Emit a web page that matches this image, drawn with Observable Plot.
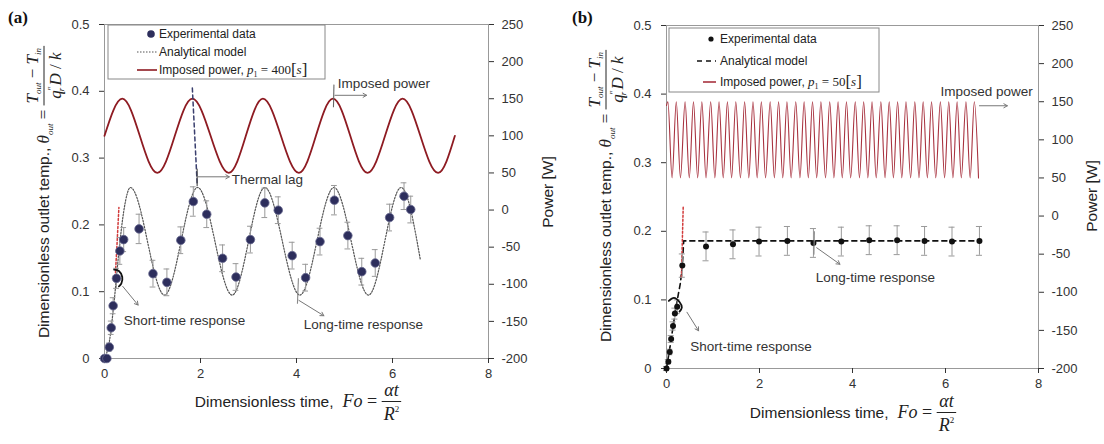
<!DOCTYPE html>
<html><head><meta charset="utf-8">
<script src="https://cdn.jsdelivr.net/npm/d3@7"></script>
<script src="https://cdn.jsdelivr.net/npm/@observablehq/plot@0.6"></script>
<style>
body{margin:0;background:#fff;width:1104px;height:444px;overflow:hidden;position:relative;}
#pa{position:absolute;left:0;top:0;width:560px;height:444px}
#pb{position:absolute;left:552px;top:0;width:552px;height:444px}
svg{overflow:visible}
</style></head><body><div id="pa"></div><div id="pb"></div>
<script>
// ---------- shared ticks ----------
const xTicks = [0, 2, 4, 6, 8];
const thetaTicks = [0, 0.1, 0.2, 0.3, 0.4, 0.5];
const powerTicks = [-200, -150, -100, -50, 0, 50, 100, 150, 200, 250];

// ---------- panel (a): p1 = 400 s ----------
const aExpFo    = [0.00, 0.05, 0.10, 0.14, 0.18, 0.25, 0.32, 0.40, 0.72, 1.01, 1.30, 1.59, 1.85, 2.13, 2.46, 2.74, 3.04, 3.34, 3.62, 3.91, 4.19, 4.49, 4.79, 5.07, 5.36, 5.64, 5.94, 6.24, 6.38];
const aExpTheta = [0.000, 0.000, 0.017, 0.046, 0.079, 0.120, 0.161, 0.178, 0.194, 0.127, 0.114, 0.177, 0.235, 0.216, 0.150, 0.122, 0.178, 0.233, 0.222, 0.154, 0.121, 0.175, 0.237, 0.184, 0.130, 0.143, 0.211, 0.243, 0.223];
const aExpErr   = [0.003, 0.003, 0.006, 0.010, 0.012, 0.015, 0.020, 0.018, 0.022, 0.020, 0.020, 0.020, 0.022, 0.020, 0.020, 0.020, 0.020, 0.022, 0.020, 0.020, 0.020, 0.020, 0.022, 0.020, 0.020, 0.020, 0.020, 0.020, 0.020];
const aModelFo    = [0, 0.10, 0.20, 0.30, 0.40, 0.54, 1.25, 1.94, 2.66, 3.34, 4.07, 4.78, 5.50, 6.18, 6.58];
const aModelTheta = [0, 0.025, 0.085, 0.160, 0.220, 0.256, 0.095, 0.256, 0.095, 0.256, 0.095, 0.256, 0.095, 0.256, 0.148];
const aShortFo    = [0.22, 0.26, 0.30];
const aShortTheta = [0.117, 0.170, 0.226];
const aPowerFo = [0, 0.37, 1.10, 1.83, 2.59, 3.30, 4.05, 4.76, 5.48, 6.21, 6.95, 7.30];
const aPowerW  = [100, 150, 50, 150, 50, 150, 50, 150, 50, 150, 50, 100];

// ---------- panel (b): p1 = 50 s ----------
const bExpFo    = [0.00, 0.04, 0.07, 0.10, 0.14, 0.18, 0.23, 0.34, 0.85, 1.43, 1.99, 2.60, 3.16, 3.76, 4.36, 4.96, 5.55, 6.14, 6.73];
const bExpTheta = [0.000, 0.010, 0.024, 0.043, 0.062, 0.080, 0.090, 0.150, 0.178, 0.181, 0.185, 0.186, 0.183, 0.185, 0.187, 0.187, 0.186, 0.185, 0.186];
const bExpErr   = [0.003, 0.003, 0.004, 0.005, 0.006, 0.008, 0.010, 0.017, 0.021, 0.021, 0.021, 0.021, 0.021, 0.021, 0.021, 0.021, 0.021, 0.021, 0.021];
const bModelFo    = [0, 0.10, 0.20, 0.30, 0.34, 0.37, 6.73];
const bModelTheta = [0, 0.042, 0.088, 0.125, 0.150, 0.186, 0.186];
const bShortFo    = [0.32, 0.34, 0.36];
const bShortTheta = [0.133, 0.185, 0.237];
const bPowerStartFo = 0, bPowerStartW = 145, bPowerHigh = 150, bPowerLow = 50;
const bPeaks   = [0.03,0.21,0.40,0.58,0.76,0.95,1.13,1.31,1.49,1.68,1.86,2.04,2.23,2.41,2.59,2.78,2.96,3.14,3.32,3.51,3.69,3.87,4.06,4.24,4.42,4.61,4.79,4.97,5.15,5.34,5.52,5.70,5.89,6.07,6.25,6.44,6.62];
const bTroughs = [0.12,0.30,0.49,0.67,0.85,1.04,1.22,1.40,1.59,1.77,1.95,2.13,2.32,2.50,2.68,2.87,3.05,3.23,3.42,3.60,3.78,3.96,4.15,4.33,4.51,4.70,4.88,5.06,5.25,5.43,5.61,5.79,5.98,6.16,6.34,6.53,6.71];

// ---------- annotations (data coordinates) ----------
const aTexts = [
  {fo: 2.65, th: 0.268, t: "Thermal lag"},
  {fo: 4.86, th: 0.412, t: "Imposed power"},
  {fo: 0.40, th: 0.057, t: "Short-time response"},
  {fo: 4.15, th: 0.050, t: "Long-time response"}
];
const aArrows = [
  {x1: 1.94, y1: 0.272, x2: 2.60, y2: 0.272},
  {x1: 4.80, y1: 0.394, x2: 5.46, y2: 0.394},
  {x1: 0.38, y1: 0.108, x2: 0.70, y2: 0.080},
  {x1: 4.05, y1: 0.087, x2: 4.57, y2: 0.064}
];
const aLagFo = [1.83, 1.93], aLagTheta = [0.405, 0.262];
const aArcFo = [0.20, 0.30, 0.37, 0.35, 0.30], aArcTheta = [0.133, 0.131, 0.122, 0.112, 0.108];
const aTicksMarks = [
  {x1: 1.93, y1: 0.258, x2: 1.93, y2: 0.284, c: "#444"},
  {x1: 4.78, y1: 0.410, x2: 4.77, y2: 0.376, c: "#666"},
  {x1: 4.04, y1: 0.120, x2: 4.02, y2: 0.082, c: "#888"}
];
const bTexts = [
  {fo: 5.89, th: 0.404, t: "Imposed power"},
  {fo: 3.21, th: 0.1325, t: "Long-time response"},
  {fo: 0.51, th: 0.0316, t: "Short-time response"}
];
const bArrows = [
  {x1: 6.73, y1: 0.383, x2: 7.33, y2: 0.383},
  {x1: 3.23, y1: 0.176, x2: 3.73, y2: 0.152},
  {x1: 0.44, y1: 0.082, x2: 0.69, y2: 0.055}
];
const bArcFo = [0.05, 0.16, 0.28, 0.33, 0.28], bArcTheta = [0.0985, 0.103, 0.097, 0.089, 0.083];
const bTicksMarks = [
  {x1: 3.18, y1: 0.200, x2: 3.17, y2: 0.166, c: "#888"}
];

// ---------- helpers ----------
const SANS = "Liberation Sans, Arial, sans-serif";
const SERIF = "Liberation Serif, Times New Roman, serif";
const toY = w => (w + 200) / 900;            // power axis -> theta axis
const fromY = y => Math.round(y * 900 - 200);

const zipXY = (xs, ys) => xs.map((x, i) => ({fo: x, th: ys[i]}));
const expTable = (xs, ys, es) => xs.map((x, i) => ({fo: x, th: ys[i], e: es[i]}));

const aPower = aPowerFo.map((x, i) => ({fo: x, w: aPowerW[i]}));
const bPower = [{fo: bPowerStartFo, w: bPowerStartW}]
  .concat(bPeaks.map(x => ({fo: x, w: bPowerHigh})))
  .concat(bTroughs.map(x => ({fo: x, w: bPowerLow})))
  .sort((p, q) => p.fo - q.fo);

function panel(o) {
  const exp = expTable(o.expFo, o.expTheta, o.expErr);
  return Plot.plot({
    width: o.width, height: 444,
    marginLeft: o.ml, marginRight: o.mr, marginTop: o.mt, marginBottom: o.mb,
    x: {domain: [0, 8]},
    y: {domain: [0, 0.5]},
    style: {fontFamily: SANS, fontSize: "13px", color: "#333", background: "transparent", overflow: "visible"},
    marks: [
      Plot.frame({stroke: "#999"}),
      Plot.axisX({ticks: xTicks, tickSize: 5, tickPadding: 5, label: null, tickFormat: d => String(d)}),
      Plot.axisY({ticks: thetaTicks, tickSize: 5, tickPadding: 10, label: null, tickFormat: d => d === 0 ? "0" : d.toFixed(1)}),
      Plot.axisY({anchor: "right", ticks: powerTicks.map(toY), tickSize: 5, tickPadding: 8, label: null, tickFormat: d => String(fromY(d))}),
      Plot.line(o.power, {x: "fo", y: d => toY(d.w), curve: "monotone-x", stroke: o.powerStroke, strokeWidth: o.powerWidth}),
      Plot.line(zipXY(o.modelFo, o.modelTheta), {x: "fo", y: "th", curve: o.modelCurve, stroke: o.modelStroke, strokeWidth: o.modelWidth, strokeDasharray: o.modelDash}),
      Plot.line(zipXY(o.shortFo, o.shortTheta), {x: "fo", y: "th", stroke: "#d23b3b", strokeWidth: 1.5, strokeDasharray: "2,2"}),
      ...(o.lag ? [Plot.line(o.lag, {x: "fo", y: "th", stroke: "#3a3f6e", strokeWidth: 1.5, strokeDasharray: "4,3"})] : []),
      Plot.ruleX(exp, {x: "fo", y1: d => d.th - d.e, y2: d => d.th + d.e, stroke: "#999", strokeWidth: 1}),
      Plot.ruleY(exp, {y: d => d.th + d.e, x1: d => d.fo - o.cap, x2: d => d.fo + o.cap, stroke: "#999", strokeWidth: 1}),
      Plot.ruleY(exp, {y: d => d.th - d.e, x1: d => d.fo - o.cap, x2: d => d.fo + o.cap, stroke: "#999", strokeWidth: 1}),
      Plot.dot(exp, {x: "fo", y: "th", r: o.dotR, fill: o.dotFill, stroke: o.dotStroke, strokeWidth: 0.8}),
      Plot.link(o.marks, {x1: "x1", y1: "y1", x2: "x2", y2: "y2", stroke: "c", strokeWidth: 1.1}),
      Plot.line(o.arc, {x: "fo", y: "th", curve: "catmull-rom", stroke: "#111", strokeWidth: 1.8}),
      Plot.arrow(o.arrows, {x1: "x1", y1: "y1", x2: "x2", y2: "y2", stroke: "#777", strokeWidth: 1, headLength: 6}),
      Plot.text(o.texts, {x: "fo", y: "th", text: "t", textAnchor: "start", fontSize: 13.5, fill: "#333"})
    ]
  });
}

function rich(text, parts) {
  parts.forEach(p => {
    const ts = text.append("tspan")
      .attr("font-family", p.f === "serif" ? SERIF : SANS)
      .attr("font-size", p.s)
      .text(p.t);
    if (p.i) ts.attr("font-style", "italic");
    if (p.dy) ts.attr("dy", p.dy);
    if (p.dx) ts.attr("dx", p.dx);
  });
  return text;
}

function legend(svg, L) {
  const g = d3.select(svg).append("g").attr("text-anchor", "start");
  g.append("rect").attr("x", L.x).attr("y", L.y).attr("width", L.w).attr("height", L.h)
    .attr("fill", "#fff").attr("stroke", "#888").attr("stroke-width", 1);
  const rows = L.rows;
  g.append("circle").attr("cx", L.dotX).attr("cy", rows[0]).attr("r", L.dotR).attr("fill", L.dotFill);
  g.append("line").attr("x1", L.lineX1).attr("x2", L.lineX2).attr("y1", rows[1]).attr("y2", rows[1])
    .attr("stroke", L.modelStroke).attr("stroke-width", L.modelWidth).attr("stroke-dasharray", L.modelDash);
  g.append("line").attr("x1", L.redX1).attr("x2", L.lineX2).attr("y1", rows[2]).attr("y2", rows[2])
    .attr("stroke", L.powerStroke).attr("stroke-width", 1.6);
  const txt = (y) => g.append("text").attr("text-anchor", "start").attr("x", L.textX).attr("y", y + 4.3).attr("fill", "#222").attr("font-family", SANS).attr("font-size", 12);
  txt(rows[0]).text("Experimental data");
  txt(rows[1]).text("Analytical model");
  rich(txt(rows[2]), [
    {t: "Imposed power, ", s: 12},
    {t: "p", f: "serif", s: 13, i: true},
    {t: "1", f: "serif", s: 8, dy: 3},
    {t: " = " + L.period, f: "serif", s: 13, dy: -3},
    {t: "[", f: "serif", s: 17, dy: 1},
    {t: "s", f: "serif", s: 13, i: true, dy: -1},
    {t: "]", f: "serif", s: 17, dy: 1}
  ]);
}

function xTitle(svg, cx, baseY) {
  const g = d3.select(svg).append("g").attr("fill", "#222").attr("text-anchor", "start");
  const t1 = g.append("text").attr("text-anchor", "start").attr("font-family", SANS).attr("font-size", 15.5).text("Dimensionless time,");
  const w1 = t1.node().getComputedTextLength();
  const t2 = rich(g.append("text").attr("text-anchor", "start"), [{t: "Fo", f: "serif", s: 18, i: true}, {t: " = ", f: "serif", s: 18}]);
  const w2 = t2.node().getComputedTextLength();
  const num = rich(g.append("text").attr("text-anchor", "middle"), [{t: "αt", f: "serif", s: 18, i: true}]);
  const den = rich(g.append("text").attr("text-anchor", "middle"), [{t: "R", f: "serif", s: 18, i: true}, {t: "2", f: "serif", s: 9, dy: -8}]);
  const fw = Math.max(num.node().getComputedTextLength(), den.node().getComputedTextLength()) + 4;
  const gap = 9;
  const total = w1 + gap + w2 + fw;
  const x0 = cx - total / 2;
  t1.attr("x", x0).attr("y", baseY);
  t2.attr("x", x0 + w1 + gap).attr("y", baseY);
  const fx = x0 + w1 + gap + w2 + fw / 2;
  const bar = baseY - 5.5;
  num.attr("x", fx).attr("y", bar - 6);
  den.attr("x", fx).attr("y", bar + 18);
  g.append("line").attr("x1", fx - fw / 2).attr("x2", fx + fw / 2).attr("y1", bar).attr("y2", bar).attr("stroke", "#222").attr("stroke-width", 1);
}

function yTitle(svg, X0, cy) {
  const g = d3.select(svg).append("g").attr("fill", "#222").attr("text-anchor", "start").attr("transform", `translate(${X0},${cy}) rotate(-90)`);
  const main = rich(g.append("text").attr("text-anchor", "start"), [
    {t: "Dimensionless outlet temp., ", s: 15.5},
    {t: "θ", f: "serif", s: 17, i: true},
    {t: "out", f: "serif", s: 9, i: true, dy: 4},
    {t: " = ", f: "serif", s: 17, dy: -4}
  ]);
  const wm = main.node().getComputedTextLength();
  const num = rich(g.append("text").attr("text-anchor", "middle"), [
    {t: "T", f: "serif", s: 17, i: true},
    {t: "out", f: "serif", s: 9, i: true, dy: 3},
    {t: " − ", f: "serif", s: 17, dy: -3},
    {t: "T", f: "serif", s: 17, i: true},
    {t: "in", f: "serif", s: 9, i: true, dy: 3}
  ]);
  const den = rich(g.append("text").attr("text-anchor", "middle"), [
    {t: "q", f: "serif", s: 17, i: true},
    {t: "″", f: "serif", s: 10, dy: -6},
    {t: "r", f: "serif", s: 9, i: true, dx: -5, dy: 9},
    {t: "D", f: "serif", s: 17, i: true, dx: 2, dy: -3},
    {t: " / ", f: "serif", s: 17},
    {t: "k", f: "serif", s: 17, i: true}
  ]);
  const fw = Math.max(num.node().getComputedTextLength(), den.node().getComputedTextLength()) + 4;
  const total = wm + fw;
  const s = -total / 2;
  main.attr("x", s).attr("y", 0);
  const fx = s + wm + fw / 2;
  num.attr("x", fx).attr("y", -11);
  den.attr("x", fx).attr("y", 12);
  g.append("line").attr("x1", s + wm).attr("x2", s + wm + fw).attr("y1", -5).attr("y2", -5).attr("stroke", "#222").attr("stroke-width", 1);
}

function rightTitle(svg, X0, cy) {
  d3.select(svg).append("text").attr("transform", `translate(${X0},${cy}) rotate(-90)`)
    .attr("text-anchor", "middle").attr("font-family", SANS).attr("font-size", 15.5).attr("fill", "#222").text("Power [W]");
}

function tag(svg, x, y, t) {
  d3.select(svg).append("text").attr("text-anchor", "start").attr("x", x).attr("y", y).attr("font-family", SERIF)
    .attr("font-weight", "bold").attr("font-size", 17).attr("fill", "#111").text(t);
}

// ---------- build panel (a) ----------
const svgA = panel({
  width: 560, ml: 104, mr: 72, mt: 24, mb: 86,
  power: aPower, powerStroke: "#8e1b22", powerWidth: 1.8,
  modelFo: aModelFo, modelTheta: aModelTheta, modelCurve: "monotone-x", modelStroke: "#555", modelWidth: 1.2, modelDash: "1.5,1.5",
  shortFo: aShortFo, shortTheta: aShortTheta,
  lag: zipXY(aLagFo, aLagTheta),
  expFo: aExpFo, expTheta: aExpTheta, expErr: aExpErr, cap: 0.06,
  dotR: 4.3, dotFill: "#2d2e5c", dotStroke: "#6a6b90",
  marks: aTicksMarks, arc: zipXY(aArcFo, aArcTheta), arrows: aArrows, texts: aTexts
});
document.getElementById("pa").appendChild(svgA);
legend(svgA, {x: 108, y: 25, w: 217, h: 54, rows: [34, 52, 70], dotX: 151, dotR: 3.8, dotFill: "#2d2e5c",
  lineX1: 137, redX1: 137, lineX2: 157, textX: 159, modelStroke: "#555", modelWidth: 1.2, modelDash: "1.5,1.5",
  powerStroke: "#8e1b22", period: "400"});
xTitle(svgA, 298, 407);
yTitle(svgA, 49, 192);
rightTitle(svgA, 553, 192);
tag(svgA, 8, 23, "(a)");

// ---------- build panel (b) ----------
const svgB = panel({
  width: 552, ml: 114, mr: 66, mt: 25, mb: 76,
  power: bPower, powerStroke: "#a8323f", powerWidth: 1.1,
  modelFo: bModelFo, modelTheta: bModelTheta, modelCurve: "linear", modelStroke: "#111", modelWidth: 1.6, modelDash: "5,4",
  shortFo: bShortFo, shortTheta: bShortTheta,
  lag: null,
  expFo: bExpFo, expTheta: bExpTheta, expErr: bExpErr, cap: 0.065,
  dotR: 3, dotFill: "#111", dotStroke: "none",
  marks: bTicksMarks, arc: zipXY(bArcFo, bArcTheta), arrows: bArrows, texts: bTexts
});
document.getElementById("pb").appendChild(svgB);
legend(svgB, {x: 117, y: 28, w: 210, h: 64, rows: [39, 61, 82], dotX: 159, dotR: 2.6, dotFill: "#111",
  lineX1: 145, redX1: 151, lineX2: 164, textX: 168, modelStroke: "#111", modelWidth: 1.5, modelDash: "5,4",
  powerStroke: "#a8323f", period: "50"});
xTitle(svgB, 301, 418);
yTitle(svgB, 59, 196);
rightTitle(svgB, 545, 196);
tag(svgB, 20, 23, "(b)");
</script>
</body></html>
